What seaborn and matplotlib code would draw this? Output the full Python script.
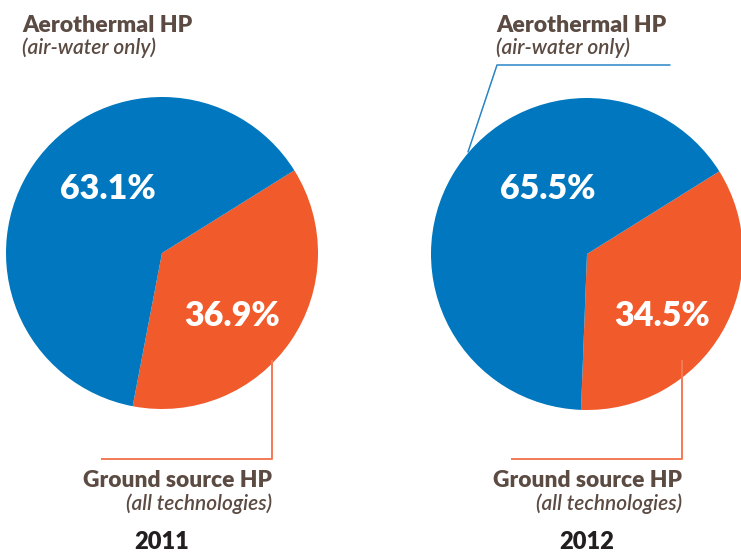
import matplotlib
matplotlib.use("Agg")
import matplotlib.pyplot as plt
import seaborn as sns

sns.set_theme(style="white")
plt.rcParams['font.family'] = ['Lato', 'DejaVu Sans']

# ---- data ----
years = ["2011", "2012"]
categories = ["Ground source HP", "Aerothermal HP"]
subtitles = ["(all technologies)", "(air-water only)"]
ground_share = [36.9, 34.5]
aero_share = [63.1, 65.5]

colors = {"Ground source HP": "#F15A2B", "Aerothermal HP": "#0077BE"}
text_col = "#5B4B43"

W, H = 741, 553
fig = plt.figure(figsize=(W / 100, H / 100), dpi=100)
ax = fig.add_axes([0, 0, 1, 1])

def Y(y):
    return H - y

centers = [(162, 253), (587, 254)]
radius = 156
label_pos = [((108, 189), (232, 316)), ((548, 189), (662, 316))]

for i, yr in enumerate(years):
    cx, cy = centers[i]
    vals = [ground_share[i], aero_share[i]]
    ax.pie(vals, colors=[colors[c] for c in categories], startangle=32,
           counterclock=False, center=(cx, Y(cy)), radius=radius,
           wedgeprops=dict(linewidth=0))
    (ax_, ay_), (gx_, gy_) = label_pos[i]
    ax.text(ax_, Y(ay_), f"{aero_share[i]:.1f}%", color="white", fontsize=24.5,
            fontweight="heavy", ha="center", va="center")
    ax.text(gx_, Y(gy_), f"{ground_share[i]:.1f}%", color="white", fontsize=24.5,
            fontweight="heavy", ha="center", va="center")

ax.set_xlim(0, W)
ax.set_ylim(0, H)
ax.set_aspect("equal")
ax.axis("off")

# Ground source callouts
gx = [272, 682]
for i in range(2):
    ax.plot([gx[i], gx[i], gx[i] - 171], [Y(360), Y(459), Y(459)],
            color="#F37A55", lw=1.4, solid_capstyle="butt")
    ax.text(gx[i], Y(487), categories[0], color=text_col, fontsize=16.4,
            fontweight="heavy", ha="right", va="baseline")
    ax.text(gx[i], Y(510), subtitles[0], color=text_col, fontsize=15,
            style="italic", fontweight="semibold", ha="right", va="baseline")
    ax.text(centers[i][0], Y(549), years[i], color="#231F20", fontsize=17,
            fontweight="heavy", ha="center", va="baseline")

# Aerothermal labels
ax_x = [22, 496]
for i in range(2):
    ax.text(ax_x[i], Y(32), categories[1], color=text_col, fontsize=16.6,
            fontweight="heavy", ha="left", va="baseline")
    ax.text(ax_x[i], Y(54), subtitles[1], color=text_col, fontsize=15,
            style="italic", fontweight="semibold", ha="left", va="baseline")

ax.plot([468, 497, 670], [Y(152), Y(65), Y(65)], color="#2A85C6", lw=1.1)

fig.savefig("out.png", dpi=100)
